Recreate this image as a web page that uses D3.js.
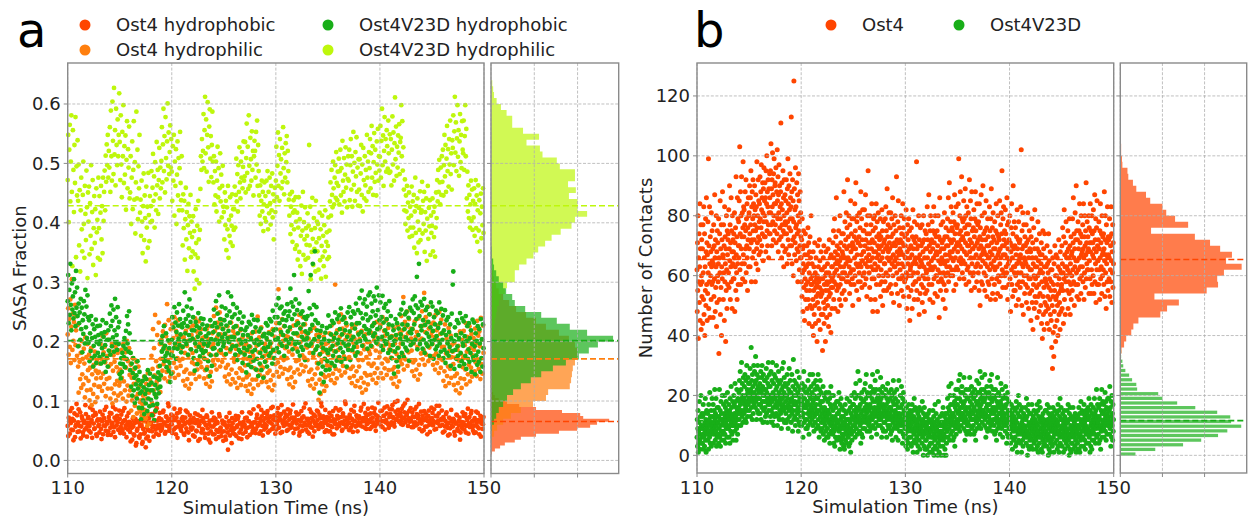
<!DOCTYPE html>
<html>
<head>
<meta charset="utf-8">
<script src="https://cdn.jsdelivr.net/npm/d3@7"></script>
<style>
  body { margin: 0; background: #fff; }
  svg { font-family: 'DejaVu Sans', sans-serif; }
</style>
</head>
<body>
<svg id="fig" width="1249" height="521"></svg>
<script>
// ---- data -------------------------------------------------------------
// time axis: first frame at 110 ns, one value per step
const TIME_START = 110
const STEP_A = 0.05
const STEP_B = 0.025

const xTicks = [110, 120, 130, 140, 150]
const yTicksA = [0, 0.1, 0.2, 0.3, 0.4, 0.5, 0.6]
const yTicksB = [0, 20, 40, 60, 80, 100, 120]
const histTicks = [0, 100, 200]

const legendA = ['Ost4 hydrophobic', 'Ost4 hydrophilic', 'Ost4V23D hydrophobic', 'Ost4V23D hydrophilic']
const legendB = ['Ost4', 'Ost4V23D']

// SASA fraction x1000, one value every 0.05 ns (one row per ns)
const sasaOst4Phobic = [
  58,41,72,66,45,83,63,52,88,70,51,34,67,79,39,57,60,95,76,48,
  64,86,49,58,81,37,57,74,70,47,42,63,66,52,93,78,55,40,61,71,
  73,50,58,89,47,64,68,38,85,75,62,53,54,80,77,44,41,67,69,58,
  60,47,82,69,53,36,66,77,44,59,71,85,58,50,90,65,62,43,49,73,
  67,80,55,43,79,61,63,90,48,56,72,39,86,68,59,75,64,52,51,84,
  70,46,56,77,62,51,83,66,45,88,68,55,59,39,74,63,52,80,65,57,
  48,32,61,55,35,70,57,44,42,63,70,25,29,50,53,66,64,40,38,58,
  44,60,58,28,31,53,66,45,47,72,22,37,55,64,40,51,71,33,50,62,
  63,78,49,56,76,40,58,67,82,52,45,88,67,59,55,43,71,80,60,50,
  69,53,57,81,84,64,62,45,48,74,73,58,66,96,91,50,54,70,60,77,
  61,46,75,68,52,87,68,55,44,72,79,38,57,65,63,81,86,53,50,70,
  58,73,66,45,43,61,72,84,54,49,81,65,47,34,62,76,69,55,52,64,
  55,42,71,64,40,79,63,50,49,68,77,33,58,61,36,74,66,47,53,85,
  52,71,64,45,38,60,59,76,73,54,45,35,61,67,30,49,57,81,68,44,
  57,72,44,61,70,36,51,65,63,48,39,78,74,53,55,41,48,67,62,33,
  49,64,60,40,35,73,55,47,18,59,66,80,42,51,58,29,71,62,46,54,
  53,44,68,75,41,56,59,70,74,37,47,63,62,52,36,81,57,45,65,60,
  60,71,48,54,72,39,55,66,66,81,43,57,79,62,58,47,51,86,64,53,
  64,46,53,71,77,58,60,91,45,63,70,49,85,74,58,42,67,80,52,61,
  71,55,59,78,83,47,66,72,50,64,74,88,62,53,90,69,57,76,68,45,
  73,52,61,80,88,67,55,74,69,46,78,93,48,63,66,58,82,71,60,77,
  64,50,75,86,52,60,69,79,84,55,57,72,63,94,46,68,72,53,67,81,
  62,77,54,68,78,42,47,59,66,83,71,50,58,74,89,63,60,96,52,70,
  59,48,70,65,45,86,63,56,81,71,55,40,67,77,49,62,74,58,61,84,
  68,82,53,59,77,71,62,97,91,56,57,74,70,63,48,85,65,51,73,67,
  60,49,72,80,49,58,66,75,56,44,83,69,44,62,68,88,61,54,75,71,
  71,84,58,62,86,73,64,50,52,79,74,61,67,99,95,56,59,72,69,63,
  63,51,77,72,55,85,70,60,48,67,82,92,66,57,58,76,73,49,61,70,
  74,59,62,84,89,70,57,66,71,95,66,55,80,73,53,61,68,87,77,64,
  65,53,79,70,56,89,72,64,61,80,87,58,50,76,69,62,74,97,63,71,
  70,83,58,66,84,56,66,75,75,89,52,64,68,79,91,62,61,55,73,86,
  78,60,64,86,93,73,71,62,57,98,82,69,69,77,100,85,74,65,66,80,
  75,61,87,70,60,92,72,81,96,64,68,76,79,102,58,71,83,65,70,88,
  67,56,81,74,56,63,73,86,64,59,90,78,61,71,76,95,53,66,69,82,
  62,49,75,68,51,83,68,57,79,72,57,44,66,75,84,60,48,70,63,89,
  71,80,59,66,86,52,64,75,53,92,74,63,67,79,92,58,58,68,70,84,
  60,47,73,69,49,57,66,78,81,61,55,42,63,72,44,54,70,85,58,65,
  57,70,68,48,42,63,62,77,76,53,50,66,59,72,35,47,65,58,54,81,
  64,75,52,60,78,47,58,71,69,87,45,62,73,56,61,79,83,66,56,50,
  59,46,71,67,47,82,63,57,80,68,54,44,66,75,40,62,69,53,61,73
]
const sasaOst4Philic = [
  212,256,178,238,191,271,164,225,305,186,247,201,233,169,262,194,219,243,176,228,
  158,114,193,166,137,181,122,201,145,171,128,188,163,106,207,139,174,118,196,152,
  134,178,101,156,119,189,93,145,172,112,161,127,183,98,151,138,169,106,147,124,
  149,163,124,196,139,171,117,209,146,182,129,191,165,108,214,137,176,121,203,158,
  139,184,104,162,121,196,96,151,177,113,166,128,191,101,157,134,181,109,148,126,
  131,153,113,186,139,162,104,196,133,171,118,182,156,99,201,126,167,109,189,144,
  118,161,84,139,101,172,73,129,154,92,143,107,166,79,134,112,158,87,124,98,
  82,101,75,133,94,109,66,141,85,118,71,129,104,58,147,78,114,63,136,92,
  128,176,97,154,221,118,189,143,245,109,167,132,211,124,158,232,139,196,115,171,
  203,184,151,217,162,193,138,228,168,209,149,263,187,133,236,157,198,141,221,176,
  183,229,148,206,164,241,139,193,218,156,211,172,236,144,199,168,226,159,189,208,
  192,171,134,207,149,181,126,218,153,193,137,201,176,121,224,146,187,129,211,165,
  181,227,146,203,162,239,137,192,217,153,209,169,234,141,197,165,221,157,186,206,
  193,173,138,208,152,184,129,221,157,196,141,204,179,124,226,149,191,133,214,168,
  196,243,161,218,177,257,153,207,232,169,224,184,249,158,212,181,237,166,201,222,
  197,177,141,213,156,189,133,226,161,201,145,208,183,128,232,153,194,137,218,172,
  166,212,131,188,147,226,122,177,202,139,195,155,219,127,182,151,207,136,171,191,
  181,160,125,196,140,171,117,208,144,183,128,191,166,112,214,136,177,121,201,155,
  171,217,136,193,152,242,127,182,207,144,199,160,224,132,187,156,212,141,176,196,
  188,167,132,203,147,179,123,216,151,191,135,198,173,118,221,143,184,127,208,162,
  184,231,149,206,165,288,141,195,220,157,212,173,238,146,201,169,226,154,189,209,
  193,172,137,208,152,183,128,221,156,196,140,203,178,123,227,148,189,132,213,167,
  188,234,153,210,169,245,145,199,224,161,216,177,241,150,205,173,229,158,193,213,
  190,169,134,205,149,181,126,218,153,193,137,200,175,121,223,145,186,129,211,164,
  155,201,102,177,136,214,112,166,191,128,183,144,208,117,171,140,196,125,160,181,
  198,178,143,214,158,190,135,227,162,201,146,209,184,130,296,154,195,138,219,173,
  186,233,151,208,167,246,143,197,222,159,214,175,239,148,203,171,227,156,191,211,
  195,174,139,210,154,185,130,223,158,198,142,205,180,125,229,150,191,134,215,169,
  158,204,123,180,139,218,114,169,194,131,187,147,212,119,174,143,199,128,163,184,
  199,179,144,215,159,191,136,228,163,202,147,210,185,130,233,155,196,139,221,174,
  182,228,147,204,163,241,138,193,218,155,210,171,236,144,199,167,223,152,187,207,
  194,173,138,209,153,184,129,222,157,197,141,204,179,124,227,149,190,133,214,168,
  197,243,162,219,178,275,153,208,233,170,225,186,251,159,214,182,238,167,202,222,
  205,185,150,221,165,197,142,234,169,208,153,216,191,136,239,161,202,145,226,180,
  205,251,170,227,186,282,161,216,241,178,233,194,259,167,222,190,246,175,210,230,
  216,196,161,232,176,208,153,245,180,219,164,227,202,147,250,172,213,156,237,191,
  169,215,134,191,150,229,125,180,205,142,198,158,223,130,185,154,210,139,174,195,
  183,162,127,198,142,173,118,211,146,186,130,193,168,113,217,138,179,122,203,157,
  172,218,137,194,153,231,128,183,208,145,201,161,226,133,189,156,213,141,177,197,
  206,186,150,222,165,197,142,235,170,210,154,217,192,137,240,162,203,146,227,181
]
const sasaV23DPhobic = [
  268,312,231,287,245,331,262,219,298,254,276,239,305,248,283,226,319,257,291,243,
  192,264,231,249,203,272,221,257,182,236,213,268,246,197,287,224,259,206,278,241,
  198,236,167,214,184,243,172,206,229,158,193,221,176,208,237,164,199,226,181,211,
  196,174,227,201,163,214,189,236,178,208,166,216,194,149,231,172,203,158,219,185,
  203,247,178,226,261,192,235,207,254,183,219,272,198,241,211,186,258,224,196,233,
  145,163,138,172,149,181,162,193,174,206,157,188,218,171,243,197,229,183,251,214,
  152,181,124,163,109,147,172,118,139,97,156,128,143,104,167,121,135,89,149,113,
  128,69,116,88,134,101,123,78,141,112,96,137,119,83,152,104,127,91,146,118,
  102,131,76,118,93,141,68,112,127,84,106,139,95,121,148,113,136,159,124,143,
  198,183,209,171,188,226,167,193,176,214,157,181,168,202,151,189,164,132,178,146,
  203,241,176,224,189,258,197,232,171,216,249,188,227,205,263,194,238,212,182,229,
  224,191,252,231,201,283,214,238,196,259,226,178,244,211,271,202,233,187,256,219,
  205,241,172,219,151,197,233,184,226,162,208,248,191,223,175,214,239,186,202,229,
  181,238,196,171,221,184,209,153,227,193,167,214,198,142,236,177,204,159,226,188,
  216,254,189,231,203,268,178,224,247,196,212,278,201,238,186,229,259,207,221,192,
  198,236,213,256,179,227,244,206,283,218,199,251,232,187,276,208,241,192,263,224,
  207,246,178,226,193,257,169,214,238,186,203,249,182,221,197,232,164,211,242,189,
  178,219,201,148,224,186,211,161,233,192,174,229,206,157,245,183,216,168,237,198,
  186,224,153,203,171,236,142,195,217,163,181,222,152,198,174,209,139,189,213,166,
  184,231,206,158,227,191,214,176,238,197,181,234,212,163,252,186,219,172,241,203,
  221,262,189,241,206,273,182,231,256,198,216,259,193,237,211,247,176,226,251,203,
  236,191,263,217,243,198,251,224,289,205,266,238,187,259,214,312,246,196,271,228,
  214,253,183,231,198,264,176,222,247,191,208,251,186,229,203,241,169,217,238,195,
  206,243,214,285,193,256,221,312,197,246,228,331,181,262,204,352,236,187,258,219,
  192,231,163,208,114,179,218,146,197,226,158,189,132,204,171,215,152,186,223,167,
  181,244,201,153,226,187,212,164,235,193,176,231,206,159,249,183,214,168,238,197,
  203,244,174,221,189,256,166,212,237,182,198,241,171,219,193,231,158,208,249,186,
  195,258,217,169,241,203,229,186,251,208,191,247,222,176,264,198,231,182,253,212,
  231,273,201,248,216,286,193,239,264,209,226,271,204,246,221,259,188,236,278,214,
  219,283,241,193,264,226,251,209,276,231,214,269,244,198,291,221,253,206,278,236,
  224,266,193,241,208,277,186,232,257,201,219,263,196,238,213,251,181,229,268,206,
  186,243,208,172,227,194,219,146,201,183,238,211,167,231,189,158,222,174,246,205,
  212,254,181,229,196,265,174,221,246,190,207,250,185,228,202,240,168,216,257,194,
  214,252,221,271,198,248,229,276,203,261,238,309,187,256,211,331,243,196,267,226,
  219,261,188,236,203,272,181,228,253,197,214,258,192,233,208,246,176,224,266,201,
  196,259,218,171,241,203,229,187,252,209,192,248,223,176,266,197,231,183,255,214,
  203,244,172,219,186,253,164,211,236,181,197,241,176,216,191,229,159,206,247,184,
  296,318,201,154,224,186,211,171,236,192,176,231,206,159,248,181,214,167,239,198,
  193,234,162,209,176,243,154,201,226,171,187,231,166,206,181,219,149,196,237,174,
  169,232,192,145,214,177,201,161,226,183,166,221,197,149,238,172,204,158,229,189
]
const sasaV23DPhilic = [
  472,548,401,523,565,436,503,581,452,327,556,489,418,531,467,578,342,495,446,539,
  437,498,362,455,318,421,476,389,352,447,503,398,341,462,415,371,488,426,307,451,
  402,461,347,433,378,497,356,418,472,329,391,445,366,423,312,458,384,405,341,476,
  391,445,338,417,462,372,428,349,476,403,452,488,421,513,469,532,497,548,476,521,
  493,561,452,589,512,471,604,538,482,627,515,556,463,592,531,497,574,512,548,618,
  536,472,581,498,443,553,512,598,467,529,481,547,422,506,571,458,524,493,562,441,
  451,512,398,476,537,423,489,571,439,502,382,468,587,441,523,406,495,458,548,417,
  439,378,471,402,349,428,483,371,446,408,335,461,392,427,358,484,413,369,445,401,
  428,487,403,459,516,437,478,392,502,448,421,536,463,489,415,472,526,441,493,458,
  504,561,468,532,592,487,546,451,578,509,473,537,601,496,552,482,519,564,493,541,
  486,437,529,471,548,412,503,462,524,398,481,537,446,509,421,492,553,467,438,512,
  421,362,448,391,437,338,406,459,372,418,319,396,432,357,411,383,447,342,402,376,
  352,411,318,386,289,347,423,366,304,395,341,437,372,298,388,457,512,489,541,503,
  521,583,492,556,612,517,574,486,548,603,527,469,562,591,508,546,477,531,587,503,
  468,512,431,487,446,503,419,471,528,443,492,402,458,517,436,481,409,462,496,427,
  418,372,451,396,437,354,426,389,462,341,405,378,443,367,412,395,448,361,423,388,
  423,461,392,447,508,436,482,419,497,452,527,468,441,503,476,519,458,494,537,471,
  478,536,451,509,567,484,528,457,581,496,462,543,507,471,554,489,521,446,512,538,
  521,476,553,498,572,462,531,487,446,412,463,398,437,471,419,452,386,431,468,408,
  445,402,471,428,487,389,452,416,476,433,397,462,421,483,409,448,372,437,459,418,
  471,528,443,496,552,462,514,437,541,483,507,458,526,469,561,492,448,517,476,534,
  502,546,468,521,487,439,412,448,381,427,396,452,368,417,438,389,421,356,443,402,
  362,417,338,392,443,351,406,327,378,429,314,387,452,346,401,372,426,338,391,363,
  378,416,341,395,531,362,427,305,388,351,442,373,329,408,356,391,318,437,367,402,
  352,398,321,374,417,337,389,306,361,412,343,378,327,396,352,421,309,368,384,339,
  361,409,342,387,436,468,412,489,447,426,503,458,431,476,497,442,519,467,438,486,
  462,508,431,487,523,446,492,417,538,471,452,509,436,481,527,459,498,426,474,512,
  471,523,438,497,541,456,512,427,486,553,464,501,437,519,478,544,452,493,429,507,
  456,507,428,483,531,447,498,419,526,472,441,512,463,489,437,548,476,503,452,519,
  492,541,458,517,563,476,529,447,502,551,469,523,484,446,537,498,558,471,512,488,
  511,563,476,538,592,497,547,462,521,578,503,541,486,556,529,491,572,517,484,549,
  486,541,463,523,579,498,552,471,534,611,507,562,479,528,493,547,518,566,482,536,
  543,598,512,571,488,527,456,421,473,398,446,419,462,387,434,408,451,376,427,392,
  412,461,378,436,392,447,358,419,476,383,428,349,441,402,367,425,388,453,371,417,
  421,469,382,437,398,452,351,418,387,441,336,407,462,373,425,394,438,346,412,383,
  395,441,352,418,376,427,343,392,451,408,472,436,489,452,506,468,431,493,447,512,
  469,523,446,497,548,478,531,452,508,563,487,524,461,541,498,572,482,517,456,539,
  526,581,497,554,612,518,569,487,542,598,511,556,479,537,583,502,548,492,571,523,
  517,572,489,546,598,512,558,441,486,419,463,408,447,392,431,471,403,456,388,437,
  409,458,378,432,472,391,446,368,421,463,387,438,352,416,449,374,427,396,458,383
]

// number of contacts, one value every 0.025 ns (one row per ns)
const contactsOst4 = [
  62,48,71,55,80,39,66,58,74,51,63,84,45,69,57,77,42,60,72,53, 58,69,44,77,61,52,83,47,66,74,40,63,55,79,50,68,86,57,71,45,
  67,54,78,61,99,49,70,58,83,64,46,73,60,68,52,81,63,57,75,65, 58,69,46,64,77,53,70,59,87,66,48,72,56,63,80,43,68,51,75,60,
  71,58,64,79,34,66,52,74,61,85,47,69,56,77,40,63,72,59,88,67, 66,52,77,61,70,45,83,58,73,64,38,69,55,80,62,49,75,67,57,72,
  74,61,82,56,69,90,65,77,52,71,63,86,58,75,68,49,80,64,72,59, 68,74,59,66,81,48,71,63,76,55,93,67,61,73,52,86,64,79,57,70,
  78,66,85,70,103,62,74,88,57,80,69,93,73,64,81,59,76,98,67,83, 73,82,64,77,58,88,69,75,92,61,79,70,84,66,55,76,72,86,63,80,
  81,69,90,74,63,86,77,95,71,58,83,72,88,66,79,92,75,84,68,80, 72,90,77,82,58,75,87,64,83,69,98,76,71,80,62,92,73,85,67,78,
  84,72,93,79,68,88,76,97,82,70,86,74,91,81,65,89,78,96,73,85, 80,91,73,86,68,95,78,84,100,75,88,70,83,92,77,66,89,81,74,94,
  86,74,95,81,104,77,89,70,92,83,101,78,87,72,94,80,99,84,75,90, 91,77,84,96,71,80,88,74,102,85,79,93,68,87,81,97,72,90,76,83,
  79,88,111,73,84,66,91,77,82,70,95,75,86,63,80,92,74,68,87,78, 77,85,69,92,74,81,64,89,78,99,72,84,67,90,76,82,70,94,79,86,
  75,83,113,70,88,64,79,92,72,85,60,78,125,73,89,67,82,71,96,76, 83,65,77,91,69,74,87,58,80,68,94,75,85,62,78,70,88,66,81,73,
  66,58,72,53,79,61,69,48,64,75,56,70,62,45,67,59,74,52,63,57, 63,55,70,49,67,58,76,52,64,71,44,61,68,55,73,50,66,59,80,57,
  57,49,64,43,60,52,68,40,55,63,47,58,71,50,61,44,56,66,53,59, 57,38,60,51,70,54,63,45,58,49,72,56,65,42,59,53,68,47,62,55,
  54,62,35,59,47,66,51,70,44,57,63,49,60,38,55,68,52,61,46,58, 57,64,50,69,55,43,61,53,72,58,47,66,54,60,41,67,56,63,49,59,
  63,56,71,60,75,52,66,58,79,61,49,68,64,73,57,86,62,55,70,65, 67,48,64,56,75,60,69,52,65,80,57,63,71,50,66,59,74,54,68,61,
  67,59,74,63,88,55,70,61,78,66,52,72,64,81,58,69,76,60,92,65, 66,73,58,80,63,70,54,77,65,61,85,68,57,74,62,79,59,71,50,69,
  70,62,79,57,73,66,84,60,75,69,91,64,72,55,78,67,80,63,71,58, 71,52,73,61,81,64,76,58,70,88,63,67,79,56,72,65,82,60,75,68,
  68,75,61,82,57,70,64,87,72,59,77,66,53,74,63,80,69,95,65,71, 67,61,74,56,80,65,71,52,77,63,69,84,59,72,66,48,75,62,79,68,
  59,71,80,64,52,76,68,62,84,57,73,66,78,48,70,63,81,67,60,74, 69,72,57,65,79,53,73,62,70,58,82,66,75,50,68,60,78,55,71,64,
  72,64,58,79,69,83,61,75,55,70,89,66,73,60,77,68,56,81,65,71, 69,62,76,57,81,66,73,54,79,64,70,86,60,74,67,51,77,63,71,65,
  63,80,70,57,75,66,93,61,72,68,54,78,64,85,59,71,67,50,76,69, 62,72,59,68,80,55,74,64,71,60,84,67,76,53,70,63,79,58,73,66,
  70,59,66,82,61,74,49,68,77,56,64,72,60,79,53,69,75,45,66,62, 63,70,55,76,60,67,49,73,64,82,57,69,61,72,52,78,65,58,71,66,
  58,73,64,98,55,69,77,61,52,70,66,80,59,47,72,63,67,54,76,65, 65,70,57,64,77,51,71,60,68,56,80,63,72,48,66,59,75,54,69,62,
  74,61,69,55,83,66,72,59,77,64,87,57,70,62,52,75,68,80,63,71, 65,72,57,78,62,69,51,75,66,83,59,71,63,74,54,80,67,60,73,68,
  60,67,75,53,70,62,80,58,65,73,46,68,86,61,72,55,64,77,59,69, 66,71,58,65,78,52,72,61,69,57,81,64,73,49,67,60,76,55,70,63,
  73,65,79,61,70,86,58,75,67,91,63,72,68,60,78,66,83,71,62,76, 68,75,60,81,65,72,55,78,69,87,62,74,66,77,57,83,70,63,76,71,
  77,68,62,84,71,99,65,74,59,80,70,88,66,75,72,64,93,69,79,61, 73,78,65,72,85,59,79,68,76,64,89,71,80,57,74,67,83,62,77,70,
  74,63,81,70,58,77,92,68,72,61,85,66,79,55,71,88,64,75,69,60, 69,76,61,82,66,73,56,79,70,88,63,75,67,78,58,84,71,64,77,72,
  61,78,69,55,84,66,73,50,76,63,70,87,58,67,80,72,57,65,90,68, 69,74,61,68,81,55,75,64,72,60,85,67,76,53,70,63,79,58,73,66,
  70,57,66,83,62,75,68,52,79,64,89,71,59,67,76,54,73,81,63,69, 65,72,57,78,62,69,52,75,66,84,59,71,63,74,54,80,67,60,73,68,
  58,72,85,64,69,53,77,66,81,60,74,95,62,70,56,79,67,83,61,72, 70,75,60,67,82,56,74,63,71,61,86,66,77,52,69,64,78,57,72,65,
  65,80,59,71,48,68,76,62,84,57,70,66,53,74,90,63,69,55,78,61, 63,70,55,76,60,67,50,73,64,82,57,69,61,72,52,78,65,58,71,66,
  72,56,67,83,61,102,64,50,75,69,58,81,63,47,70,77,60,66,54,73, 65,70,57,64,77,51,71,60,68,56,81,63,72,49,66,59,75,54,69,62,
  59,68,45,73,62,55,79,51,66,71,42,64,57,76,60,49,69,82,53,63, 59,66,51,72,56,63,46,69,60,78,53,65,57,68,48,74,61,54,67,62,
  50,64,71,44,58,67,39,61,75,53,47,69,56,42,63,74,51,59,66,48, 58,63,50,57,70,44,64,53,61,49,74,56,65,42,59,52,68,47,62,55,
  45,58,36,62,50,29,66,53,41,57,33,64,48,55,70,43,60,38,52,67, 53,60,45,66,50,57,40,63,54,72,47,59,51,62,42,68,55,48,61,56,
  57,70,49,64,76,55,61,44,73,59,82,52,67,63,47,71,58,78,60,66, 63,68,55,62,75,49,69,58,66,54,79,61,70,47,64,57,73,52,67,60,
  68,55,79,62,71,86,58,66,74,50,69,63,81,57,72,65,90,61,75,53, 65,72,57,78,62,69,52,75,66,84,59,71,63,74,54,80,67,60,73,68,
  63,77,58,69,84,66,52,73,61,80,70,56,75,67,91,59,71,64,78,62, 68,73,62,69,80,54,76,65,71,59,84,68,75,54,71,62,80,57,74,67,
  71,60,82,66,54,75,69,87,58,72,64,79,51,68,76,62,85,57,70,65, 65,72,57,78,62,69,52,75,66,84,59,71,63,74,54,80,67,60,73,68,
  62,74,57,69,88,65,53,72,80,61,67,49,77,64,71,58,83,66,55,73, 67,72,59,66,79,53,73,62,70,58,83,65,74,51,68,61,77,56,71,64
]
const contactsV23D = [
  6,12,3,9,15,1,8,4,11,18,5,7,2,13,9,20,4,10,6,14, 9,4,13,7,17,2,10,6,14,3,11,8,19,5,12,1,9,15,7,10,
  9,14,5,11,2,17,8,12,6,21,10,4,13,7,15,3,11,8,19,9, 13,10,17,4,11,7,15,9,22,12,5,14,8,19,10,3,13,6,16,11,
  11,7,16,4,13,9,22,6,12,15,3,10,18,8,14,5,12,20,7,11, 12,8,17,5,14,10,20,7,13,16,4,11,18,9,15,6,12,21,10,14,
  13,9,17,6,12,15,4,19,10,14,8,23,11,16,7,13,10,18,5,12, 12,20,10,17,14,8,24,11,18,13,5,16,9,22,12,15,7,19,10,14,
  16,21,12,25,18,14,28,17,10,22,15,31,19,13,24,20,11,18,26,15, 19,14,23,17,27,12,20,16,25,11,18,30,15,22,13,21,26,17,24,19,
  20,15,24,18,29,13,22,19,36,16,25,21,12,27,18,23,14,20,30,17, 21,28,19,24,16,33,18,25,20,12,27,22,15,30,19,23,14,26,17,21,
  19,24,14,22,17,28,12,21,26,16,30,18,23,11,20,27,15,22,18,25, 20,16,25,13,22,18,29,14,21,26,11,19,24,17,31,15,23,18,27,20,
  17,23,13,20,28,15,19,11,25,18,31,14,21,16,24,10,19,27,13,20, 19,26,17,22,14,30,16,23,18,10,25,20,13,28,17,21,12,24,15,19,
  18,14,25,20,9,22,16,29,19,12,23,17,31,15,21,26,11,20,24,16, 18,14,23,11,20,16,27,12,19,24,9,17,22,15,29,13,21,16,25,18,
  16,21,11,19,27,14,18,8,23,15,32,17,12,20,25,13,18,22,10,17, 17,24,15,20,12,28,14,21,16,8,23,18,11,26,15,19,10,22,13,17,
  15,20,10,18,24,13,17,6,22,14,28,16,11,19,23,12,16,21,9,17, 16,12,21,9,18,14,25,10,17,22,7,15,20,13,27,11,19,14,23,16,
  17,12,21,15,27,10,18,14,24,8,20,13,16,22,11,19,25,14,17,9, 15,23,14,19,10,27,12,20,15,6,22,17,9,25,13,18,8,21,11,16,
  14,9,18,12,23,7,15,11,20,5,16,13,10,19,8,14,21,12,6,15, 13,9,18,6,15,11,21,7,14,19,4,12,17,10,23,8,16,11,20,13,
  11,7,15,9,20,4,12,8,17,3,13,10,6,16,9,12,18,5,11,14, 11,18,9,14,6,21,8,15,10,2,17,12,5,19,9,13,4,16,7,11,
  10,6,13,3,9,15,2,11,7,17,5,12,8,14,4,10,19,7,12,9, 10,6,15,3,12,8,18,4,11,16,1,9,14,7,20,5,13,8,17,10,
  12,17,8,15,21,10,13,6,19,11,24,14,9,16,12,20,7,15,28,13, 13,20,11,16,8,25,10,17,12,4,19,14,7,21,11,15,6,18,9,13,
  18,12,22,15,9,16,24,13,19,11,27,14,17,8,21,15,12,20,16,10, 15,11,20,8,17,13,23,9,16,21,6,14,19,12,27,10,18,13,22,15,
  13,21,16,9,25,14,18,11,22,15,7,19,13,28,16,10,20,14,17,12, 15,22,13,18,10,26,12,19,14,6,21,16,9,23,13,17,8,20,11,15,
  16,11,20,14,8,22,13,17,6,19,12,15,24,10,18,14,9,21,13,16, 14,10,19,7,16,12,22,8,15,20,5,13,18,11,25,9,17,12,21,14,
  10,15,19,12,6,17,13,22,9,14,11,18,5,16,12,25,10,14,8,13, 13,20,11,16,8,23,10,17,12,4,19,14,7,21,11,15,6,18,9,13,
  7,13,3,10,16,9,5,12,2,14,8,11,4,17,10,6,13,9,15,11, 10,6,14,3,12,8,17,4,11,15,1,9,13,7,19,5,12,8,16,10,
  12,4,9,15,6,1,11,8,14,3,10,7,13,5,16,9,2,12,8,10, 9,15,7,11,4,18,6,12,8,0,14,10,3,16,7,11,2,13,5,9,
  5,10,2,13,8,0,11,6,14,9,3,12,7,15,1,9,4,11,8,6, 8,4,12,1,10,6,15,2,9,13,0,7,11,5,17,3,10,6,14,8,
  9,2,6,12,0,8,4,18,7,11,1,10,5,13,3,8,6,0,10,7, 8,14,6,10,3,16,5,11,7,0,13,9,2,14,6,10,0,12,4,8,
  14,8,19,11,6,16,12,23,9,15,5,13,20,10,17,7,24,12,14,11, 12,8,17,5,14,10,20,6,13,18,3,11,16,9,22,7,15,10,19,12,
  17,11,22,14,9,25,15,12,19,8,27,16,13,21,10,18,14,23,12,16, 14,21,12,17,9,26,11,18,13,5,20,15,8,22,12,16,7,19,10,14,
  11,19,14,8,22,16,10,26,13,18,7,15,20,12,23,9,17,14,21,12, 14,10,19,7,16,12,22,8,15,20,5,13,18,11,25,9,17,12,21,14,
  18,12,24,15,10,21,16,28,13,19,9,17,22,14,26,11,20,15,18,13, 15,22,13,18,10,27,12,19,14,6,21,16,9,23,13,17,8,20,11,15,
  13,21,9,17,25,12,19,15,10,23,14,27,11,18,8,20,16,22,12,15, 14,10,19,7,16,12,22,8,15,20,5,13,18,11,26,9,17,12,21,14,
  16,10,20,14,7,18,12,24,11,17,9,15,22,13,6,19,12,16,10,14, 13,20,11,16,8,23,10,17,12,4,19,14,7,21,11,15,6,18,9,13,
  12,7,15,9,4,13,10,17,6,11,14,2,10,16,8,12,5,13,9,11, 10,6,15,3,12,8,18,4,11,16,1,9,14,7,20,5,13,8,17,10,
  8,13,4,10,15,7,1,11,9,16,5,12,3,9,14,8,10,6,13,7, 9,16,7,12,4,19,6,13,8,0,15,10,3,17,7,11,2,14,5,9,
  10,6,14,3,11,8,17,5,12,9,2,13,7,10,15,4,11,8,12,6, 9,5,14,2,11,7,17,3,10,15,1,8,13,6,18,4,12,7,16,9,
  6,11,2,9,13,7,1,10,5,14,8,3,12,9,4,11,7,15,6,10, 8,15,6,11,3,17,5,12,7,0,14,9,2,16,6,10,1,13,4,8,
  11,5,9,14,3,12,8,16,6,10,1,13,9,7,15,4,11,8,12,10, 9,5,14,2,11,7,17,3,10,15,1,8,13,6,19,4,12,7,16,9,
  7,12,3,10,14,6,9,1,11,8,15,5,13,2,10,7,12,9,4,11, 8,15,6,11,3,17,5,12,7,0,14,9,2,16,6,10,1,13,4,8,
  9,4,12,7,16,2,10,13,6,11,8,3,14,9,5,12,1,10,7,13, 8,4,13,2,10,6,16,2,9,14,1,7,12,5,18,3,11,6,15,8,
  10,14,6,12,3,9,17,8,11,5,13,2,10,15,7,12,4,9,14,8, 9,16,7,12,4,19,6,13,8,1,15,10,3,17,7,11,2,14,5,9,
  12,8,16,5,13,10,19,7,14,11,4,15,9,12,22,6,13,10,17,11, 11,7,16,4,13,9,19,5,12,17,2,10,15,8,22,6,14,9,18,11,
  14,9,17,6,12,15,10,21,8,13,18,5,11,16,12,7,14,19,10,13, 12,19,10,15,7,23,9,16,11,3,18,13,6,20,10,14,5,17,8,12
]

// marginal histograms: first bin edge, bin width, counts
const histOst4Phobic = { start: 0.010, width: 0.005, counts: [2,9,21,32,55,69,104,157,199,229,245,273,213,206,164,104,65,37,18,9,5,2] }
const histOst4Philic = { start: 0.03, width: 0.01, counts: [2,7,14,28,46,69,97,127,132,182,185,187,189,194,199,199,194,180,157,127,104,81,58,42,28,18,12,7,5] }
const histV23DPhobic = { start: 0.05, width: 0.01, counts: [2,7,12,18,28,37,51,69,92,116,143,173,203,226,247,282,222,182,152,116,79,55,49,35,28,18,12,7,5,2,2] }
const histV23DPhilic = { start: 0.20, width: 0.01, counts: [2,5,7,9,12,14,18,23,32,37,55,55,65,82,98,109,125,140,161,186,194,222,200,200,180,196,178,194,194,159,152,119,113,82,111,74,49,49,36,23,13,7,5,3] }
const histContactsOst4 = { start: 32, width: 2, counts: [1,3,9,14,26,31,43,95,111,139,81,205,232,230,246,288,251,265,237,213,177,73,161,130,109,100,71,61,38,30,19,17,5,4,2,2,1,0,0,1,1,0,0,0,0,0,1] }
const histContactsV23D = { start: -0.35, width: 1.55, counts: [36,83,149,192,232,254,287,263,261,230,178,135,100,90,40,38,28,21,12,7,5,2,2] }

// mean of each series (dashed lines)
const meansA = [0.0655, 0.171, 0.2017, 0.4286]
const meansB = [65.4, 11.6]

// ---- styling ------------------------------------------------------------
const colorsA = ['#ff4500', '#ff7f0e', '#18ae18', '#bef70c']
const colorsB = ['#ff4500', '#18ae18']
const SPINE = '#8a8a8a'
const GRID = '#b0b0b0'
const TEXT = '#222'

const svg = d3.select('#fig')

/**
 * Draw one panel: scatter over time, marginal histogram, grids and axes
 *
 * @param {object} p - panel description
 */
function drawPanel (p) {
  const g = svg.append('g')
  const [x0, x1] = p.x.range()
  const [yb, yt] = p.y.range()
  const [h0, h1] = p.h.range()

  // scatter points, in drawing order
  p.order.forEach((k) => {
    const s = p.series[k]
    g.append('g')
      .attr('fill', s.color)
      .selectAll('circle')
      .data(s.values)
      .join('circle')
      .attr('cx', (d, i) => p.x(TIME_START + i * s.step))
      .attr('cy', (d) => p.y(d * s.scale))
      .attr('r', p.r)
  })

  // marginal histograms
  p.order.forEach((k) => {
    const s = p.series[k]
    const hist = s.hist
    if (s.bars) {
      g.append('g')
        .attr('fill', s.color)
        .attr('fill-opacity', 0.7)
        .selectAll('rect')
        .data(hist.counts)
        .join('rect')
        .attr('x', p.h(0))
        .attr('y', (d, i) => p.y(hist.start + (i + 0.85) * hist.width))
        .attr('width', (d) => p.h(d) - p.h(0))
        .attr('height', (d, i) => p.y(hist.start + (i + 0.15) * hist.width) - p.y(hist.start + (i + 0.85) * hist.width))
    } else {
      const pts = hist.counts.map((c, i) => ({ v: hist.start + i * hist.width, c }))
      pts.push({ v: hist.start + hist.counts.length * hist.width, c: hist.counts[hist.counts.length - 1] })
      const area = d3.area()
        .curve(d3.curveStepBefore)
        .y((d) => p.y(d.v))
        .x0(p.h(0))
        .x1((d) => p.h(d.c))
      g.append('path')
        .attr('d', area(pts))
        .attr('fill', s.color)
        .attr('fill-opacity', 0.7)
    }
  })

  // grid lines (drawn over the markers, as matplotlib does)
  const grid = g.append('g')
    .attr('stroke', GRID)
    .attr('stroke-width', 0.8)
    .attr('stroke-dasharray', '3,1.6')
  grid.selectAll('.gx').data(xTicks).join('line')
    .attr('x1', (d) => p.x(d)).attr('x2', (d) => p.x(d))
    .attr('y1', yt).attr('y2', yb)
  grid.selectAll('.gh').data(histTicks).join('line')
    .attr('x1', (d) => p.h(d)).attr('x2', (d) => p.h(d))
    .attr('y1', yt).attr('y2', yb)
  ;[[x0, x1], [h0, h1]].forEach(([a, b]) => {
    grid.append('g').selectAll('line').data(p.yTicks).join('line')
      .attr('x1', a).attr('x2', b)
      .attr('y1', (d) => p.y(d)).attr('y2', (d) => p.y(d))
  })

  // dashed mean lines
  p.order.forEach((k) => {
    const s = p.series[k]
    ;[[x0, x1], [h0, h1]].forEach(([a, b]) => {
      g.append('line')
        .attr('x1', a).attr('x2', b)
        .attr('y1', p.y(s.mean)).attr('y2', p.y(s.mean))
        .attr('stroke', s.color)
        .attr('stroke-width', 1.6)
        .attr('stroke-dasharray', '6,3')
    })
  })

  // spines
  ;[[x0, x1], [h0, h1]].forEach(([a, b]) => {
    g.append('rect')
      .attr('x', a).attr('y', yt)
      .attr('width', b - a).attr('height', yb - yt)
      .attr('fill', 'none')
      .attr('stroke', SPINE)
      .attr('stroke-width', 1.4)
  })

  // ticks
  const ticks = g.append('g').attr('stroke', SPINE).attr('stroke-width', 1)
  ticks.selectAll('.tx').data(xTicks).join('line')
    .attr('x1', (d) => p.x(d)).attr('x2', (d) => p.x(d))
    .attr('y1', yb).attr('y2', yb + 4)
  ticks.selectAll('.th').data(histTicks).join('line')
    .attr('x1', (d) => p.h(d)).attr('x2', (d) => p.h(d))
    .attr('y1', yb).attr('y2', yb + 4)
  ;[x0, h0].forEach((a) => {
    ticks.append('g').selectAll('line').data(p.yTicks).join('line')
      .attr('x1', a - 4).attr('x2', a)
      .attr('y1', (d) => p.y(d)).attr('y2', (d) => p.y(d))
  })

  // tick labels
  const labels = g.append('g').attr('fill', TEXT).style('font-size', '18px')
  labels.selectAll('.lx').data(xTicks).join('text')
    .attr('x', (d) => p.x(d))
    .attr('y', yb + 20.5)
    .attr('text-anchor', 'middle')
    .text((d) => d)
  labels.selectAll('.ly').data(p.yTicks).join('text')
    .attr('x', x0 - 7)
    .attr('y', (d) => p.y(d))
    .attr('dy', '0.36em')
    .attr('text-anchor', 'end')
    .text(p.yFormat)

  // axis titles
  labels.append('text')
    .attr('x', (x0 + x1) / 2)
    .attr('y', yb + 40)
    .attr('text-anchor', 'middle')
    .text('Simulation Time (ns)')
  labels.append('text')
    .attr('transform', `translate(${p.yLabelX},${(yt + yb) / 2}) rotate(-90)`)
    .attr('text-anchor', 'middle')
    .text(p.yLabel)

  // panel letter
  g.append('text')
    .attr('x', p.letterX)
    .attr('y', 47)
    .attr('fill', '#000')
    .style('font-size', '48px')
    .text(p.letter)

  // legend
  const lg = g.append('g').style('font-size', '18px').attr('fill', TEXT)
  p.legend.forEach((item) => {
    lg.append('circle')
      .attr('cx', item.x).attr('cy', item.y).attr('r', 5.5)
      .attr('fill', item.color)
    lg.append('text')
      .attr('x', item.x + 31).attr('y', item.y)
      .attr('dy', '0.36em')
      .text(item.label)
  })
}

const seriesA = [
  { values: sasaOst4Phobic, hist: histOst4Phobic },
  { values: sasaOst4Philic, hist: histOst4Philic },
  { values: sasaV23DPhobic, hist: histV23DPhobic },
  { values: sasaV23DPhilic, hist: histV23DPhilic }
].map((s, i) => ({ ...s, step: STEP_A, scale: 0.001, color: colorsA[i], mean: meansA[i] }))

const seriesB = [
  { values: contactsOst4, hist: histContactsOst4 },
  { values: contactsV23D, hist: histContactsV23D, bars: true }
].map((s, i) => ({ ...s, step: STEP_B, scale: 1, color: colorsB[i], mean: meansB[i] }))

drawPanel({
  x: d3.scaleLinear().domain([110, 150]).range([67.7, 484]),
  y: d3.scaleLinear().domain([-0.022, 0.669]).range([473.5, 63]),
  h: d3.scaleLinear().domain([0, 295]).range([491, 618.7]),
  r: 2.4,
  yTicks: yTicksA,
  yFormat: d3.format('.1f'),
  yLabel: 'SASA Fraction',
  yLabelX: 25.5,
  letter: 'a',
  letterX: 17,
  series: seriesA,
  order: [0, 1, 3, 2],
  legend: [
    { x: 85, y: 25, label: legendA[0], color: colorsA[0] },
    { x: 85, y: 50, label: legendA[1], color: colorsA[1] },
    { x: 328, y: 25, label: legendA[2], color: colorsA[2] },
    { x: 328, y: 50, label: legendA[3], color: colorsA[3] }
  ]
})

drawPanel({
  x: d3.scaleLinear().domain([110, 150]).range([697, 1113.7]),
  y: d3.scaleLinear().domain([-5.9, 131]).range([473, 63]),
  h: d3.scaleLinear().domain([0, 300]).range([1120.3, 1246.7]),
  r: 2.5,
  yTicks: yTicksB,
  yFormat: d3.format('d'),
  yLabel: 'Number of Contacts',
  yLabelX: 652,
  letter: 'b',
  letterX: 694,
  series: seriesB,
  order: [0, 1],
  legend: [
    { x: 831, y: 25, label: legendB[0], color: colorsB[0] },
    { x: 959, y: 25, label: legendB[1], color: colorsB[1] }
  ]
})
</script>
</body>
</html>
